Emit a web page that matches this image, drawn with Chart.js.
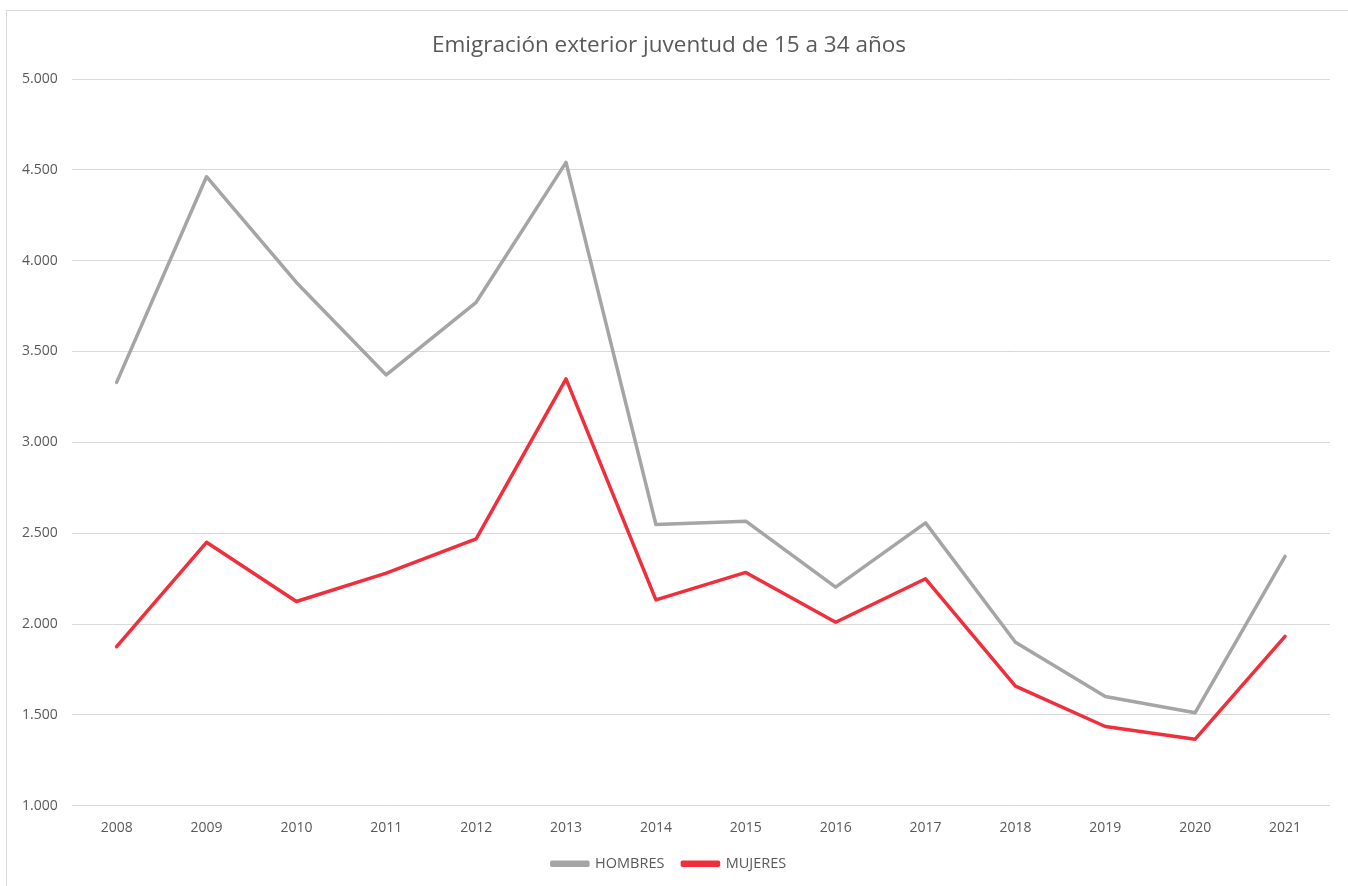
<!DOCTYPE html>
<html>
<head>
<meta charset="utf-8">
<script src="https://cdn.jsdelivr.net/npm/chart.js@4"></script>
<style>
  body { margin: 0; background: #fff; overflow: hidden; }
  #frame { position: absolute; left: 6px; top: 10px; width: 1400px; height: 900px; border: 1px solid #d9d9d9; }
  #wrap { position: absolute; left: 0; top: 0; width: 1348px; height: 886px; }
</style>
</head>
<body>
<div id="frame"></div>
<div id="wrap"><canvas id="chart"></canvas></div>
<script>
// Eje x
var years = ['2008', '2009', '2010', '2011', '2012', '2013', '2014', '2015', '2016', '2017', '2018', '2019', '2020', '2021'];

// Series (personas de 15 a 34 años)
var hombres = [3330, 4462, 3880, 3371, 3771, 4541, 2548, 2566, 2203, 2557, 1900, 1601, 1512, 2372];
var mujeres = [1876, 2450, 2124, 2280, 2469, 3349, 2133, 2284, 2010, 2249, 1658, 1436, 1366, 1932];

var seriesNames = ['HOMBRES', 'MUJERES'];
var seriesColors = ['#a5a5a5', '#ef2f3c'];

var txtColor = '#595959';
var font = "'Open Sans', 'Noto Sans', sans-serif";

// Formato con punto de miles: 1.000
function fmt(v){
  return String(v).replace(/\B(?=(\d{3})+(?!\d))/g, '.');
}

function makeSet(label, data, color){
  return {
    label: label,
    data: data,
    borderColor: color,
    backgroundColor: color,
    borderWidth: 3.5,
    pointRadius: 0,
    tension: 0,
    borderJoinStyle: 'round',
    borderCapStyle: 'round',
    fill: false
  };
}

new Chart(document.getElementById('chart'), {
  type: 'line',
  data: {
    labels: years,
    datasets: [
      makeSet(seriesNames[0], hombres, seriesColors[0]),
      makeSet(seriesNames[1], mujeres, seriesColors[1])
    ]
  },
  options: {
    responsive: true,
    maintainAspectRatio: false,
    animation: false,
    layout: { padding: { left: 8, right: 18, top: 0, bottom: 5 } },
    plugins: {
      title: {
        display: true,
        text: 'Emigración exterior juventud de 15 a 34 años',
        color: txtColor,
        font: { family: font, size: 22.5, weight: 'normal' },
        padding: { top: 32, bottom: 20 }
      },
      legend: {
        position: 'bottom',
        labels: {
          color: txtColor,
          font: { family: font, size: 14.5 },
          boxWidth: 36,
          boxHeight: 3,
          padding: 18
        }
      },
      tooltip: { enabled: false }
    },
    scales: {
      x: {
        offset: true,
        grid: { display: false, drawTicks: false },
        border: { display: false },
        ticks: { color: txtColor, font: { family: font, size: 14 }, padding: 14, maxRotation: 0 },
        // quitar hueco bajo las etiquetas del eje x
        afterFit: function(scale){ scale.height -= 12; }
      },
      y: {
        min: 1000,
        max: 5000,
        grid: { color: '#d9d9d9', lineWidth: 1, drawTicks: false },
        border: { display: false },
        ticks: {
          stepSize: 500,
          color: txtColor,
          font: { family: font, size: 14 },
          padding: 14,
          callback: function(v){ return fmt(v); }
        }
      }
    }
  }
});
</script>
</body>
</html>
